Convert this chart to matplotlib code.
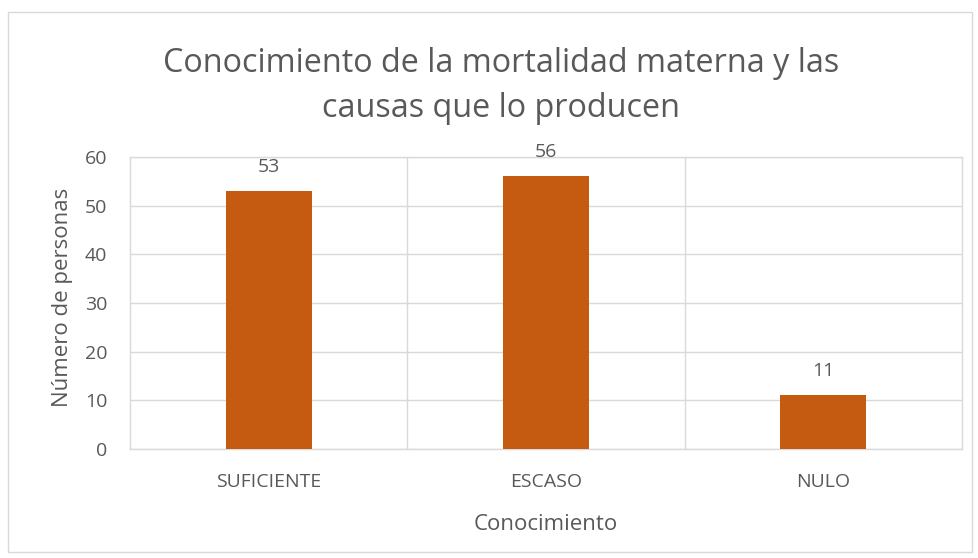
import matplotlib.pyplot as plt
from matplotlib.patches import Rectangle

categorias = ['SUFICIENTE', 'ESCASO', 'NULO']
personas = [53, 56, 11]
yticks = [0, 10, 20, 30, 40, 50, 60]

color_barra = '#C55A11'
color_texto = '#595959'
color_rejilla = '#D9D9D9'

plt.rcParams['font.family'] = ['Open Sans', 'DejaVu Sans']

fig = plt.figure(figsize=(9.79, 5.58), dpi=100)
ax = fig.add_axes([130 / 979, 1 - 449 / 558, 832 / 979, 292 / 558])

x = list(range(len(categorias)))
barras = ax.bar(x, personas, width=0.31, color=color_barra, zorder=3)

# etiquetas de datos
for xi, v in zip(x, personas):
    ax.annotate(str(v), (xi, v), xytext=(0, 11), textcoords='offset points',
                ha='center', va='bottom', fontsize=14, color=color_texto)

ax.set_xlim(-0.5, 2.5)
ax.set_ylim(0, 60)
ax.set_yticks(yticks)
ax.set_xticks(x)
ax.set_xticklabels(categorias)

# rejilla horizontal y lineas verticales entre categorias
ax.yaxis.grid(True, color=color_rejilla, linewidth=1, zorder=0)
for b in [0.5, 1.5]:
    ax.axvline(b, color=color_rejilla, linewidth=1, zorder=0)

for lado in ['top', 'right', 'left', 'bottom']:
    ax.spines[lado].set_color(color_rejilla)
    ax.spines[lado].set_linewidth(1)

ax.tick_params(axis='both', length=0, colors=color_texto, labelsize=14)
ax.tick_params(axis='x', pad=17, labelsize=14)
ax.tick_params(axis='y', pad=16.5)

ax.set_ylabel('Número de personas', fontsize=16, color=color_texto, labelpad=8)
ax.yaxis.label.set_y(0.52)
ax.set_xlabel('Conocimiento', fontsize=16, color=color_texto, labelpad=17)

fig.text(0.512, 1 - 86 / 558, 'Conocimiento de la mortalidad materna y las\ncausas que lo producen',
         ha='center', va='center', fontsize=23.3, color=color_texto, linespacing=1.45)

# borde del grafico
fig.patches.append(Rectangle((8 / 979, 6 / 558), 964 / 979, 540 / 558, transform=fig.transFigure,
                             fill=False, edgecolor=color_rejilla, linewidth=1))

fig.savefig('out.png', dpi=100)
